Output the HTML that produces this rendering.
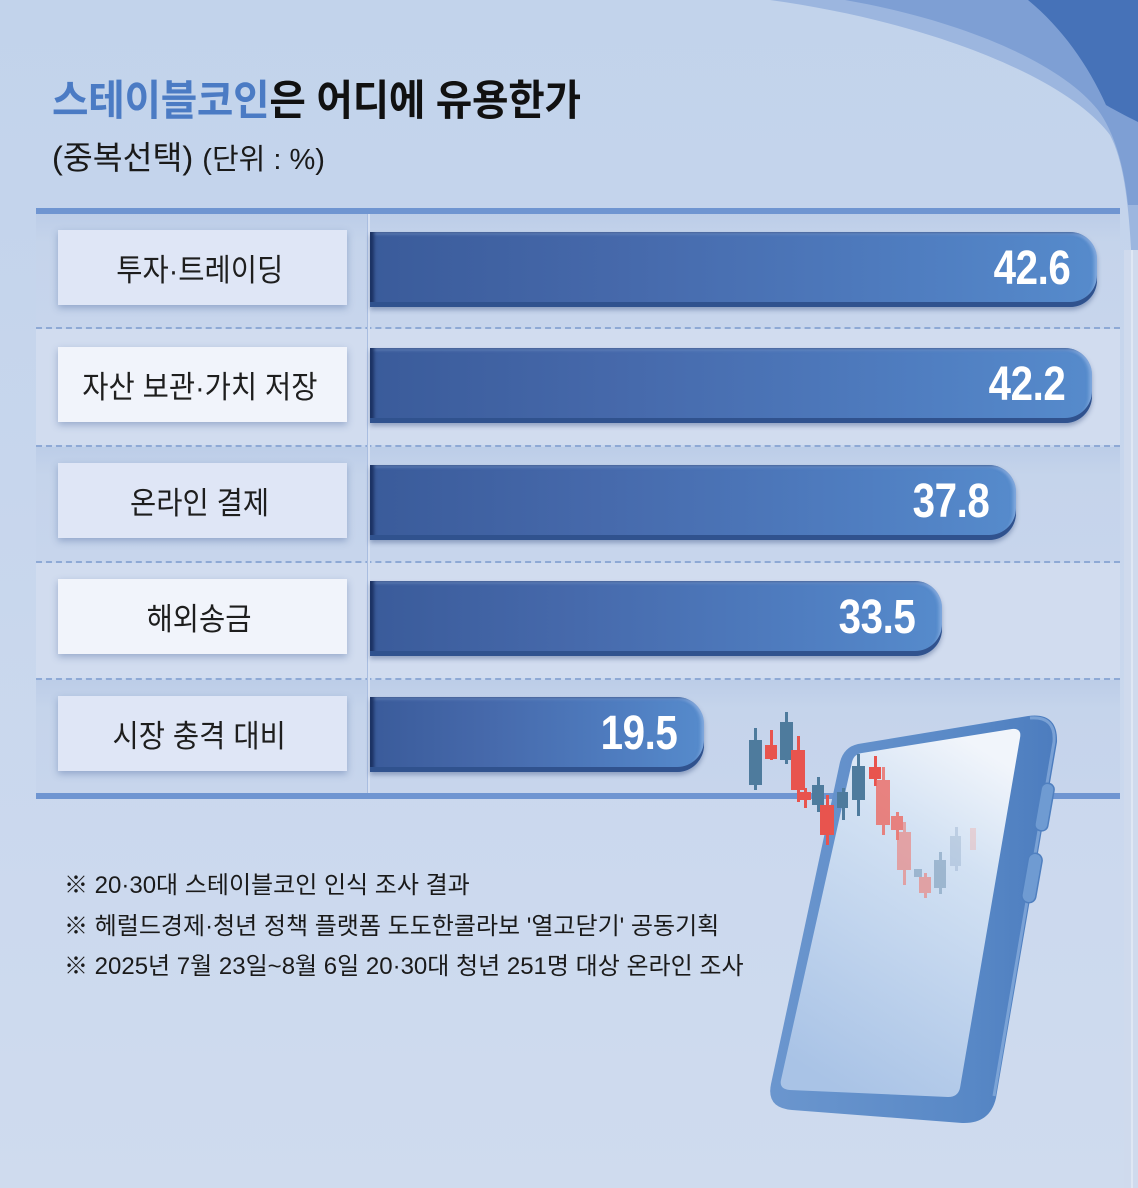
<!DOCTYPE html>
<html><head><meta charset="utf-8">
<style>
html,body{margin:0;padding:0}
body{width:1138px;height:1188px;position:relative;overflow:hidden;
background:linear-gradient(180deg,#c2d3eb 0%,#c7d6ed 40%,#cfdbee 100%);
font-family:"Liberation Sans","Noto Sans CJK KR",sans-serif;}
.abs{position:absolute}
.title{left:52px;top:75px;font-size:42px;line-height:52px;font-weight:700;color:#111;white-space:nowrap;transform:scaleX(0.945);transform-origin:left center;letter-spacing:-0.3px}
.title .b{color:#4b7bc4}
.sub{left:52px;top:136px;font-size:32.5px;line-height:44px;color:#1a1a1a;white-space:nowrap;transform-origin:left center}
.sub .s{font-size:29px}
.row{position:absolute;left:36px;width:1084px}
.odd{background:linear-gradient(180deg,#bccde8 0%,#c5d4eb 25%,#c7d5ec 100%)}
.even{background:#d1dcef}
.dash{position:absolute;left:36px;width:1084px;height:0;border-top:2px dashed #8ea9d5}
.label{position:absolute;left:58px;width:289px;height:75px;display:flex;align-items:center;justify-content:center;
box-shadow:0 3px 7px rgba(50,80,140,0.35);font-size:31px;color:#1e1e1e}
.label span{display:inline-block;transform:scaleX(0.92);white-space:nowrap;margin-right:6px}
.l1{background:#dfe6f6}.l2{background:#f1f4fb}
.bar{position:absolute;left:370px;height:75px;border-radius:0 27px 27px 0;
background:linear-gradient(90deg,#3a5b9a 0%,#4669ab 35%,#4f7dc0 75%,#568bcc 100%);
box-shadow:inset 0 -5px 0 #30528e,inset 4px 0 3px #1c3263,inset 0 3px 2px rgba(140,170,220,0.35),inset -3px 0 3px rgba(170,200,240,0.5),0 3px 5px rgba(30,55,110,0.35);
display:flex;align-items:center;justify-content:flex-end}
.bar span{display:inline-block;font-family:"Liberation Sans",sans-serif;font-weight:700;font-size:48px;color:#fff;
transform:scaleX(0.84);transform-origin:right center;margin-right:27px;margin-top:-2px;letter-spacing:-0.5px}
.note{left:64px;top:866px;font-size:24px;line-height:40.5px;color:#1a1a1a;white-space:nowrap;letter-spacing:0px}
</style></head>
<body>

<svg class="abs" style="left:0;top:0" width="1138" height="1188">
  <path d="M 770 0 C 930 22, 1068 78, 1110 135 C 1126 165, 1131 220, 1133 300 L 1138 300 L 1138 0 Z" fill="#9cb6df"/>
  <path d="M 845 0 C 960 20, 1060 62, 1098 110 C 1114 132, 1124 165, 1128 205 L 1138 205 L 1138 0 Z" fill="#7e9fd4"/>
  <path d="M 1028 0 C 1062 28, 1088 65, 1106 105 C 1118 112, 1130 118, 1138 122 L 1138 0 Z" fill="#4672b8"/>
  <rect x="1124" y="250" width="14" height="938" fill="#cfdaed"/>
  <rect x="1131" y="250" width="2" height="938" fill="#dfe7f4"/>
</svg>

<div class="abs title"><span class="b">스테이블코인</span>은 어디에 유용한가</div>
<div class="abs sub">(중복선택) <span class="s">(단위 : %)</span></div>

<div class="row odd" style="top:214px;height:113px"></div>
<div class="row even" style="top:329px;height:116px"></div>
<div class="row odd" style="top:447px;height:114px"></div>
<div class="row even" style="top:563px;height:115px"></div>
<div class="row odd" style="top:680px;height:113px"></div>

<div class="abs" style="left:36px;top:208px;width:1084px;height:6px;background:#6f95d1"></div>
<div class="abs" style="left:36px;top:793px;width:1084px;height:6px;background:#6f95d1"></div>

<div class="dash" style="top:327px"></div>
<div class="dash" style="top:445px"></div>
<div class="dash" style="top:561px"></div>
<div class="dash" style="top:678px"></div>

<div class="abs" style="left:367px;top:214px;width:1px;height:579px;background:#a9bde0"></div>
<div class="abs" style="left:368px;top:214px;width:2px;height:579px;background:#d6e0f1"></div>

<div class="label l1" style="top:230px"><span>투자·트레이딩</span></div>
<div class="label l2" style="top:347px"><span>자산 보관·가치 저장</span></div>
<div class="label l1" style="top:463px"><span>온라인 결제</span></div>
<div class="label l2" style="top:579px"><span>해외송금</span></div>
<div class="label l1" style="top:696px"><span>시장 충격 대비</span></div>

<div class="bar" style="top:232px;width:727px"><span>42.6</span></div>
<div class="bar" style="top:348px;width:722px"><span>42.2</span></div>
<div class="bar" style="top:465px;width:646px"><span>37.8</span></div>
<div class="bar" style="top:581px;width:572px"><span>33.5</span></div>
<div class="bar" style="top:697px;width:334px"><span>19.5</span></div>

<div class="abs note">※ 20·30대 스테이블코인 인식 조사 결과<br>※ 헤럴드경제·청년 정책 플랫폼 도도한콜라보 '열고닫기' 공동기획<br>※ 2025년 7월 23일~8월 6일 20·30대 청년 251명 대상 온라인 조사</div>

<svg class="abs" style="left:0;top:0" width="1138" height="1188">
  <defs>
    <linearGradient id="fr" x1="0" y1="0" x2="1" y2="0">
      <stop offset="0" stop-color="#6b96ce"/>
      <stop offset="0.7" stop-color="#5888c6"/>
      <stop offset="1" stop-color="#4c7cbe"/>
    </linearGradient>
    <linearGradient id="sc" x1="0.7" y1="0" x2="0.3" y2="1">
      <stop offset="0" stop-color="#f1f5fb"/>
      <stop offset="0.3" stop-color="#d2e1f3"/>
      <stop offset="1" stop-color="#a9c3e6"/>
    </linearGradient>
  </defs>
  <path d="M 858 744 L 1028 716 Q 1058 712 1057 742 L 996 1098 Q 990 1124 962 1123 L 792 1110 Q 766 1108 771 1084 L 840 762 Q 844 747 858 744 Z" fill="url(#fr)"/>
  <path d="M 1030 718 Q 1056 716 1054 742 L 994 1096" fill="none" stroke="#8db0de" stroke-width="3" opacity="0.7"/>
  <path d="M 862 753 L 1012 729 Q 1022 728 1020 738 L 960 1088 Q 958 1097 948 1097 L 790 1090 Q 779 1089 781 1080 L 852 762 Q 854 754 862 753 Z" fill="url(#sc)"/>
  <rect x="1038" y="783" width="13" height="48" rx="6" fill="#6f9bd2" stroke="#4f7fbf" stroke-width="1.5" transform="rotate(10 1044 807)"/>
  <rect x="1025" y="853" width="14" height="50" rx="7" fill="#6f9bd2" stroke="#4f7fbf" stroke-width="1.5" transform="rotate(10 1032 878)"/>

  <g fill="#4e7b9d">
    <rect x="754" y="728" width="3" height="62"/><rect x="749" y="740" width="13" height="45"/>
    <rect x="785" y="712" width="3" height="52"/><rect x="780" y="722" width="13" height="38"/>
    <rect x="817" y="777" width="3" height="35"/><rect x="812" y="785" width="12" height="20"/>
    <rect x="842" y="788" width="3" height="32"/><rect x="837" y="792" width="11" height="16"/>
    <rect x="857" y="754" width="3" height="62"/><rect x="852" y="766" width="13" height="34"/>
  </g>
  <g fill="#e8544e">
    <rect x="770" y="730" width="3" height="30"/><rect x="765" y="745" width="12" height="14"/>
    <rect x="797" y="736" width="3" height="66"/><rect x="791" y="750" width="14" height="40"/>
    <rect x="804" y="788" width="3" height="20"/><rect x="799" y="792" width="12" height="8"/>
    <rect x="826" y="795" width="3" height="50"/><rect x="820" y="805" width="14" height="30"/>
    <rect x="874" y="756" width="3" height="30"/><rect x="869" y="767" width="12" height="12"/>
  </g>
  <g fill="#ec6a63" opacity="0.8">
    <rect x="882" y="767" width="3" height="68"/><rect x="876" y="780" width="14" height="45"/>
    <rect x="896" y="812" width="3" height="28"/><rect x="891" y="816" width="12" height="14"/>
  </g>
  <g fill="#ee7a72" opacity="0.6">
    <rect x="903" y="822" width="3" height="63"/><rect x="897" y="832" width="14" height="38"/>
    <rect x="924" y="873" width="3" height="25"/><rect x="919" y="877" width="12" height="16"/>
  </g>
  <g fill="#6c8fae" opacity="0.5">
    <rect x="914" y="869" width="8" height="8"/>
    <rect x="939" y="852" width="3" height="42"/><rect x="934" y="860" width="12" height="28"/>
  </g>
  <g fill="#8aa4c3" opacity="0.35">
    <rect x="955" y="827" width="3" height="44"/><rect x="950" y="836" width="11" height="30"/>
  </g>
  <g fill="#f0a39c" opacity="0.35">
    <rect x="970" y="828" width="6" height="22"/>
  </g>
</svg>

</body></html>
